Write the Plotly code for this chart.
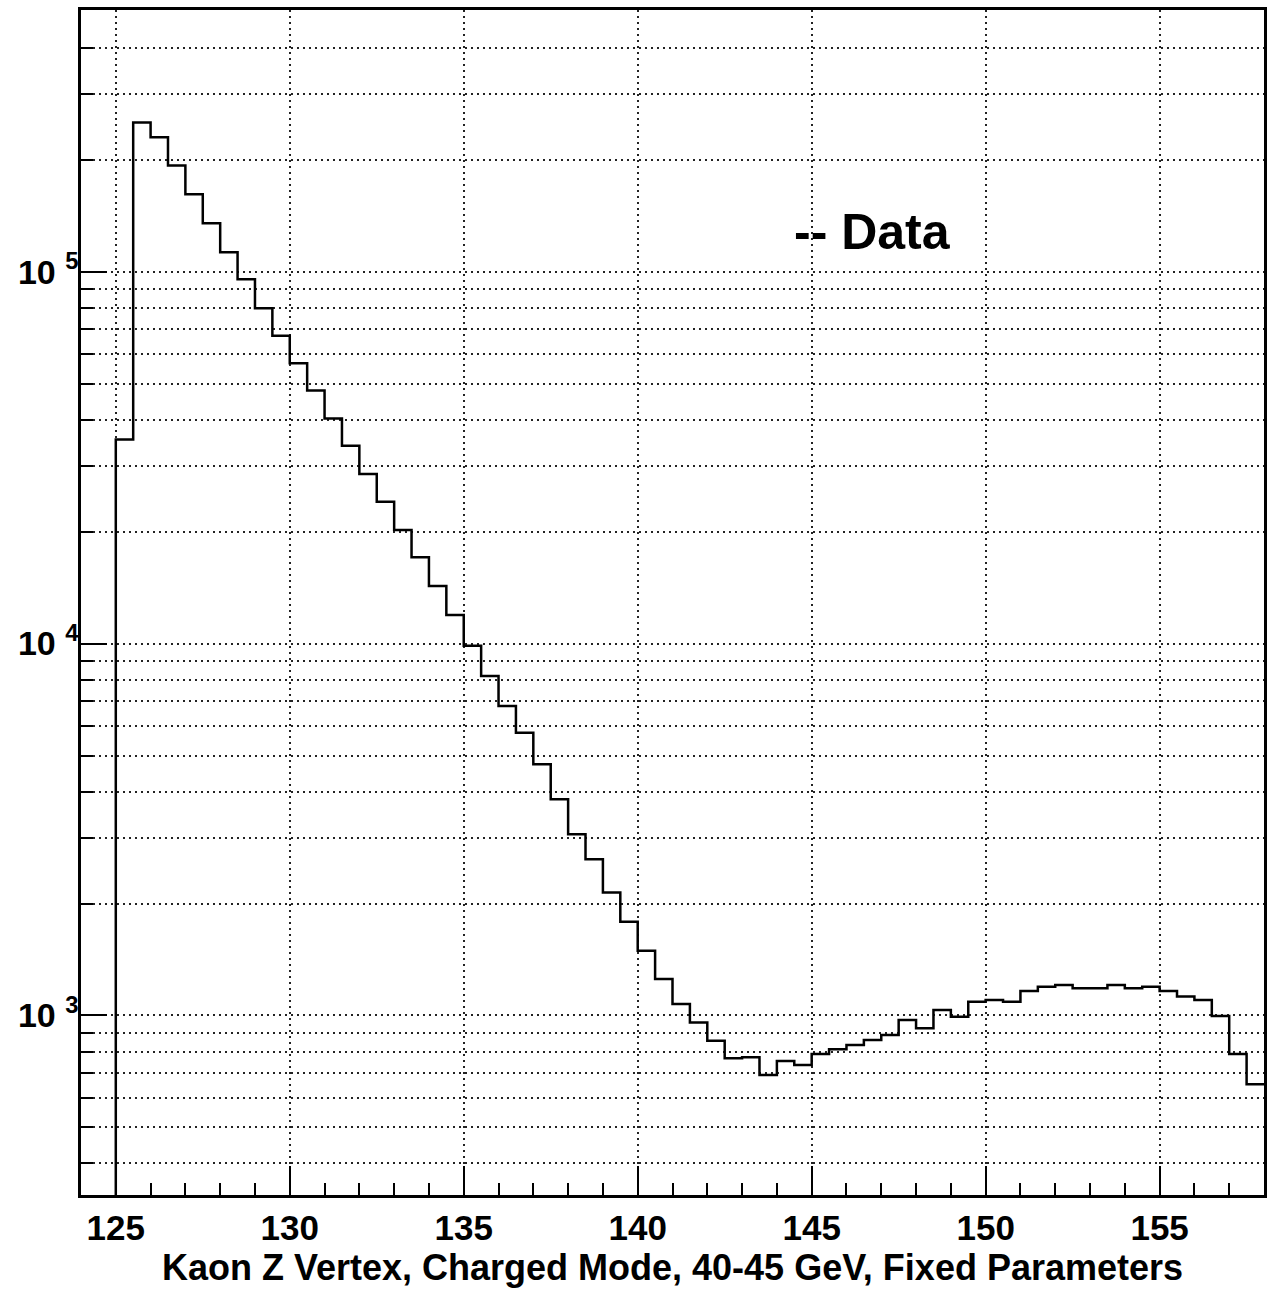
import plotly.graph_objects as go

# Histogram: Kaon Z vertex, bin lower edges (width 0.5) and counts
bin_low = [125.0, 125.5, 126.0, 126.5, 127.0, 127.5, 128.0, 128.5, 129.0, 129.5,
           130.0, 130.5, 131.0, 131.5, 132.0, 132.5, 133.0, 133.5, 134.0, 134.5,
           135.0, 135.5, 136.0, 136.5, 137.0, 137.5, 138.0, 138.5, 139.0, 139.5,
           140.0, 140.5, 141.0, 141.5, 142.0, 142.5, 143.0, 143.5, 144.0, 144.5,
           145.0, 145.5, 146.0, 146.5, 147.0, 147.5, 148.0, 148.5, 149.0, 149.5,
           150.0, 150.5, 151.0, 151.5, 152.0, 152.5, 153.0, 153.5, 154.0, 154.5,
           155.0, 155.5, 156.0, 156.5, 157.0, 157.5]
bin_high_last = 158.0
counts = [35400, 252000, 230000, 193000, 161500, 135000, 112800, 95400, 79700, 67300,
          56700, 47900, 40300, 34050, 28570, 24070, 20200, 17060, 14280, 11940,
          9870, 8180, 6795, 5760, 4736, 3814, 3070, 2630, 2140, 1787,
          1494, 1254, 1074, 958, 855, 767, 772, 692, 754, 736,
          788, 811, 833, 859, 886, 972, 924, 1035, 992, 1089,
          1101, 1089, 1164, 1195, 1208, 1183, 1183, 1208, 1183, 1195,
          1164, 1124, 1101, 997, 788, 653]

x_major = [125, 130, 135, 140, 145, 150, 155]
x_minor = [126, 127, 128, 129, 131, 132, 133, 134, 136, 137, 138, 139, 141, 142, 143, 144,
           146, 147, 148, 149, 151, 152, 153, 154, 156, 157]
y_major = [1e3, 1e4, 1e5]
y_major_text = ["10 <sup>3</sup>", "10 <sup>4</sup>", "10 <sup>5</sup>"]
y_minor = [400, 500, 600, 700, 800, 900, 2000, 3000, 4000, 5000, 6000, 7000, 8000, 9000,
           20000, 30000, 40000, 50000, 60000, 70000, 80000, 90000, 200000, 300000, 400000]

# step outline (starts from below the axis at the first edge)
xs = [bin_low[0]] + bin_low + [bin_high_last]
ys = [1] + counts + [counts[-1]]

fig = go.Figure()
fig.add_trace(go.Scatter(x=xs, y=ys, mode="lines", line=dict(shape="hv", color="black", width=2.5),
                         showlegend=False, hoverinfo="skip"))

font_family = "Liberation Sans, Arial, Helvetica, sans-serif"
dotgrid = "2px,4px"
gridcol = "#222222"

fig.update_layout(
    width=1268, height=1299,
    margin=dict(l=81, r=1, t=10, b=104),
    paper_bgcolor="white", plot_bgcolor="white",
    font=dict(family=font_family, color="black"),
    annotations=[dict(text="-- Data", xref="paper", yref="paper", x=0.601, y=0.8127,
                      xanchor="left", yanchor="middle", showarrow=False,
                      font=dict(size=50, family=font_family, color="black", weight="bold"))],
)

fig.update_xaxes(
    range=[124, 158],
    tickmode="array", tickvals=x_major, ticktext=[str(v) for v in x_major],
    ticks="inside", ticklen=29, tickwidth=2, tickcolor="black",
    tickfont=dict(size=35, weight="bold"),
    showgrid=True, gridcolor=gridcol, griddash=dotgrid, gridwidth=1.5,
    minor=dict(tickmode="array", tickvals=x_minor, ticks="inside", ticklen=12, tickwidth=2,
               tickcolor="black", showgrid=False),
    showline=True, linecolor="black", linewidth=2.5, mirror=True,
    zeroline=False,
    title=dict(text="Kaon Z Vertex, Charged Mode, 40-45 GeV, Fixed Parameters",
               font=dict(size=36, weight="bold"), standoff=4),
)

fig.update_yaxes(
    type="log", range=[2.5173, 5.7037],
    tickmode="array", tickvals=y_major, ticktext=y_major_text,
    ticks="inside", ticklen=26, tickwidth=2, tickcolor="black",
    tickfont=dict(size=34, weight="bold"),
    ticklabelstandoff=-7,
    showgrid=True, gridcolor=gridcol, griddash=dotgrid, gridwidth=1.5,
    minor=dict(tickmode="array", tickvals=y_minor, ticks="inside", ticklen=12, tickwidth=2,
               tickcolor="black", showgrid=True, gridcolor=gridcol, griddash=dotgrid, gridwidth=1.5),
    showline=True, linecolor="black", linewidth=2.5, mirror=True,
    zeroline=False,
)

fig.write_html("out.html")
